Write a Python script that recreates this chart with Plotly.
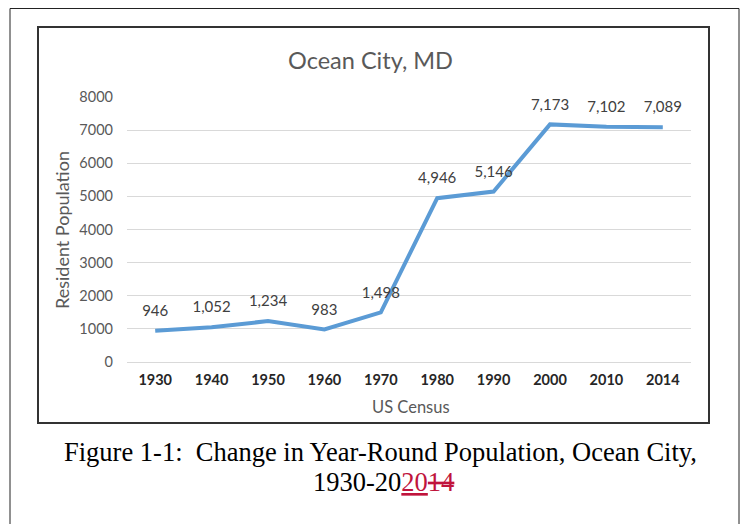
import plotly.graph_objects as go

years = ["1930", "1940", "1950", "1960", "1970", "1980", "1990", "2000", "2010", "2014"]
population = [946, 1052, 1234, 983, 1498, 4946, 5146, 7173, 7102, 7089]
labels = [f"{v:,}" for v in population]
y_ticks = [0, 1000, 2000, 3000, 4000, 5000, 6000, 7000, 8000]

OFF = 8  # page body margin
W, H = 749 - OFF, 524 - OFF
# plot area in screen coords: x 127..691, y 97..362
L = 127 - OFF
R = W - (691 - OFF)
T = 97 - OFF
B = H - (362 - OFF)
pw, ph = W - L - R, H - T - B

def px(x):
    return (x - OFF - L) / pw

def py(y):
    return (H - B - (y - OFF)) / ph

FONT = "Lato"

def note(text, x, y, size, color, family=FONT, angle=0):
    return dict(text=text, xref="paper", yref="paper", x=px(x), y=py(y),
                xanchor="center", yanchor="middle", textangle=angle,
                showarrow=False, font=dict(family=family, size=size, color=color))

fig = go.Figure()
fig.add_trace(go.Scatter(
    x=years, y=population, mode="lines+markers+text",
    line=dict(color="#5B9BD5", width=4),
    marker=dict(size=16, opacity=0, color="#5B9BD5"),
    text=labels, textposition="top center",
    textfont=dict(family=FONT, size=15, color="#404040"),
    cliponaxis=False, showlegend=False, hoverinfo="skip",
))

fig.update_layout(
    width=W, height=H,
    margin=dict(l=L, r=R, t=T, b=B, autoexpand=False),
    paper_bgcolor="white", plot_bgcolor="white",
    xaxis=dict(type="category", range=[-0.5, len(years) - 0.5], showgrid=False,
               showline=True, linecolor="#d9d9d9",
               tickfont=dict(family=FONT, size=14.5, color="#262626", weight="bold"),
               ticks="", ticklabelstandoff=5),
    yaxis=dict(range=[0, 8000], tickvals=y_ticks, showgrid=True, gridcolor="#d9d9d9",
               zeroline=False, showline=False,
               tickfont=dict(family=FONT, size=14.5, color="#595959"),
               ticklabelstandoff=13),
    shapes=[
        dict(type="rect", xref="paper", yref="paper",
             x0=px(10), x1=px(739), y0=py(560), y1=py(8.5),
             line=dict(color="#222222", width=1)),
        dict(type="rect", xref="paper", yref="paper",
             x0=px(38), x1=px(709), y0=py(423), y1=py(27),
             line=dict(color="#333333", width=2)),
    ],
    annotations=[
        note("Ocean City, MD", 370, 60, 23.5, "#595959"),
        note("Resident Population", 62, 230, 18, "#595959", angle=-90),
        note("US Census", 411, 407, 16.5, "#595959"),
        note("Figure 1-1:  Change in Year-Round Population, Ocean City,", 380, 452, 26.5,
             "#000000", family="Liberation Serif"),
        note('1930-20<span style="color:#C0143C"><u>20</u><s>14</s></span>', 383, 482, 26.5,
             "#000000", family="Liberation Serif"),
    ],
)

fig.write_html("out.html")
